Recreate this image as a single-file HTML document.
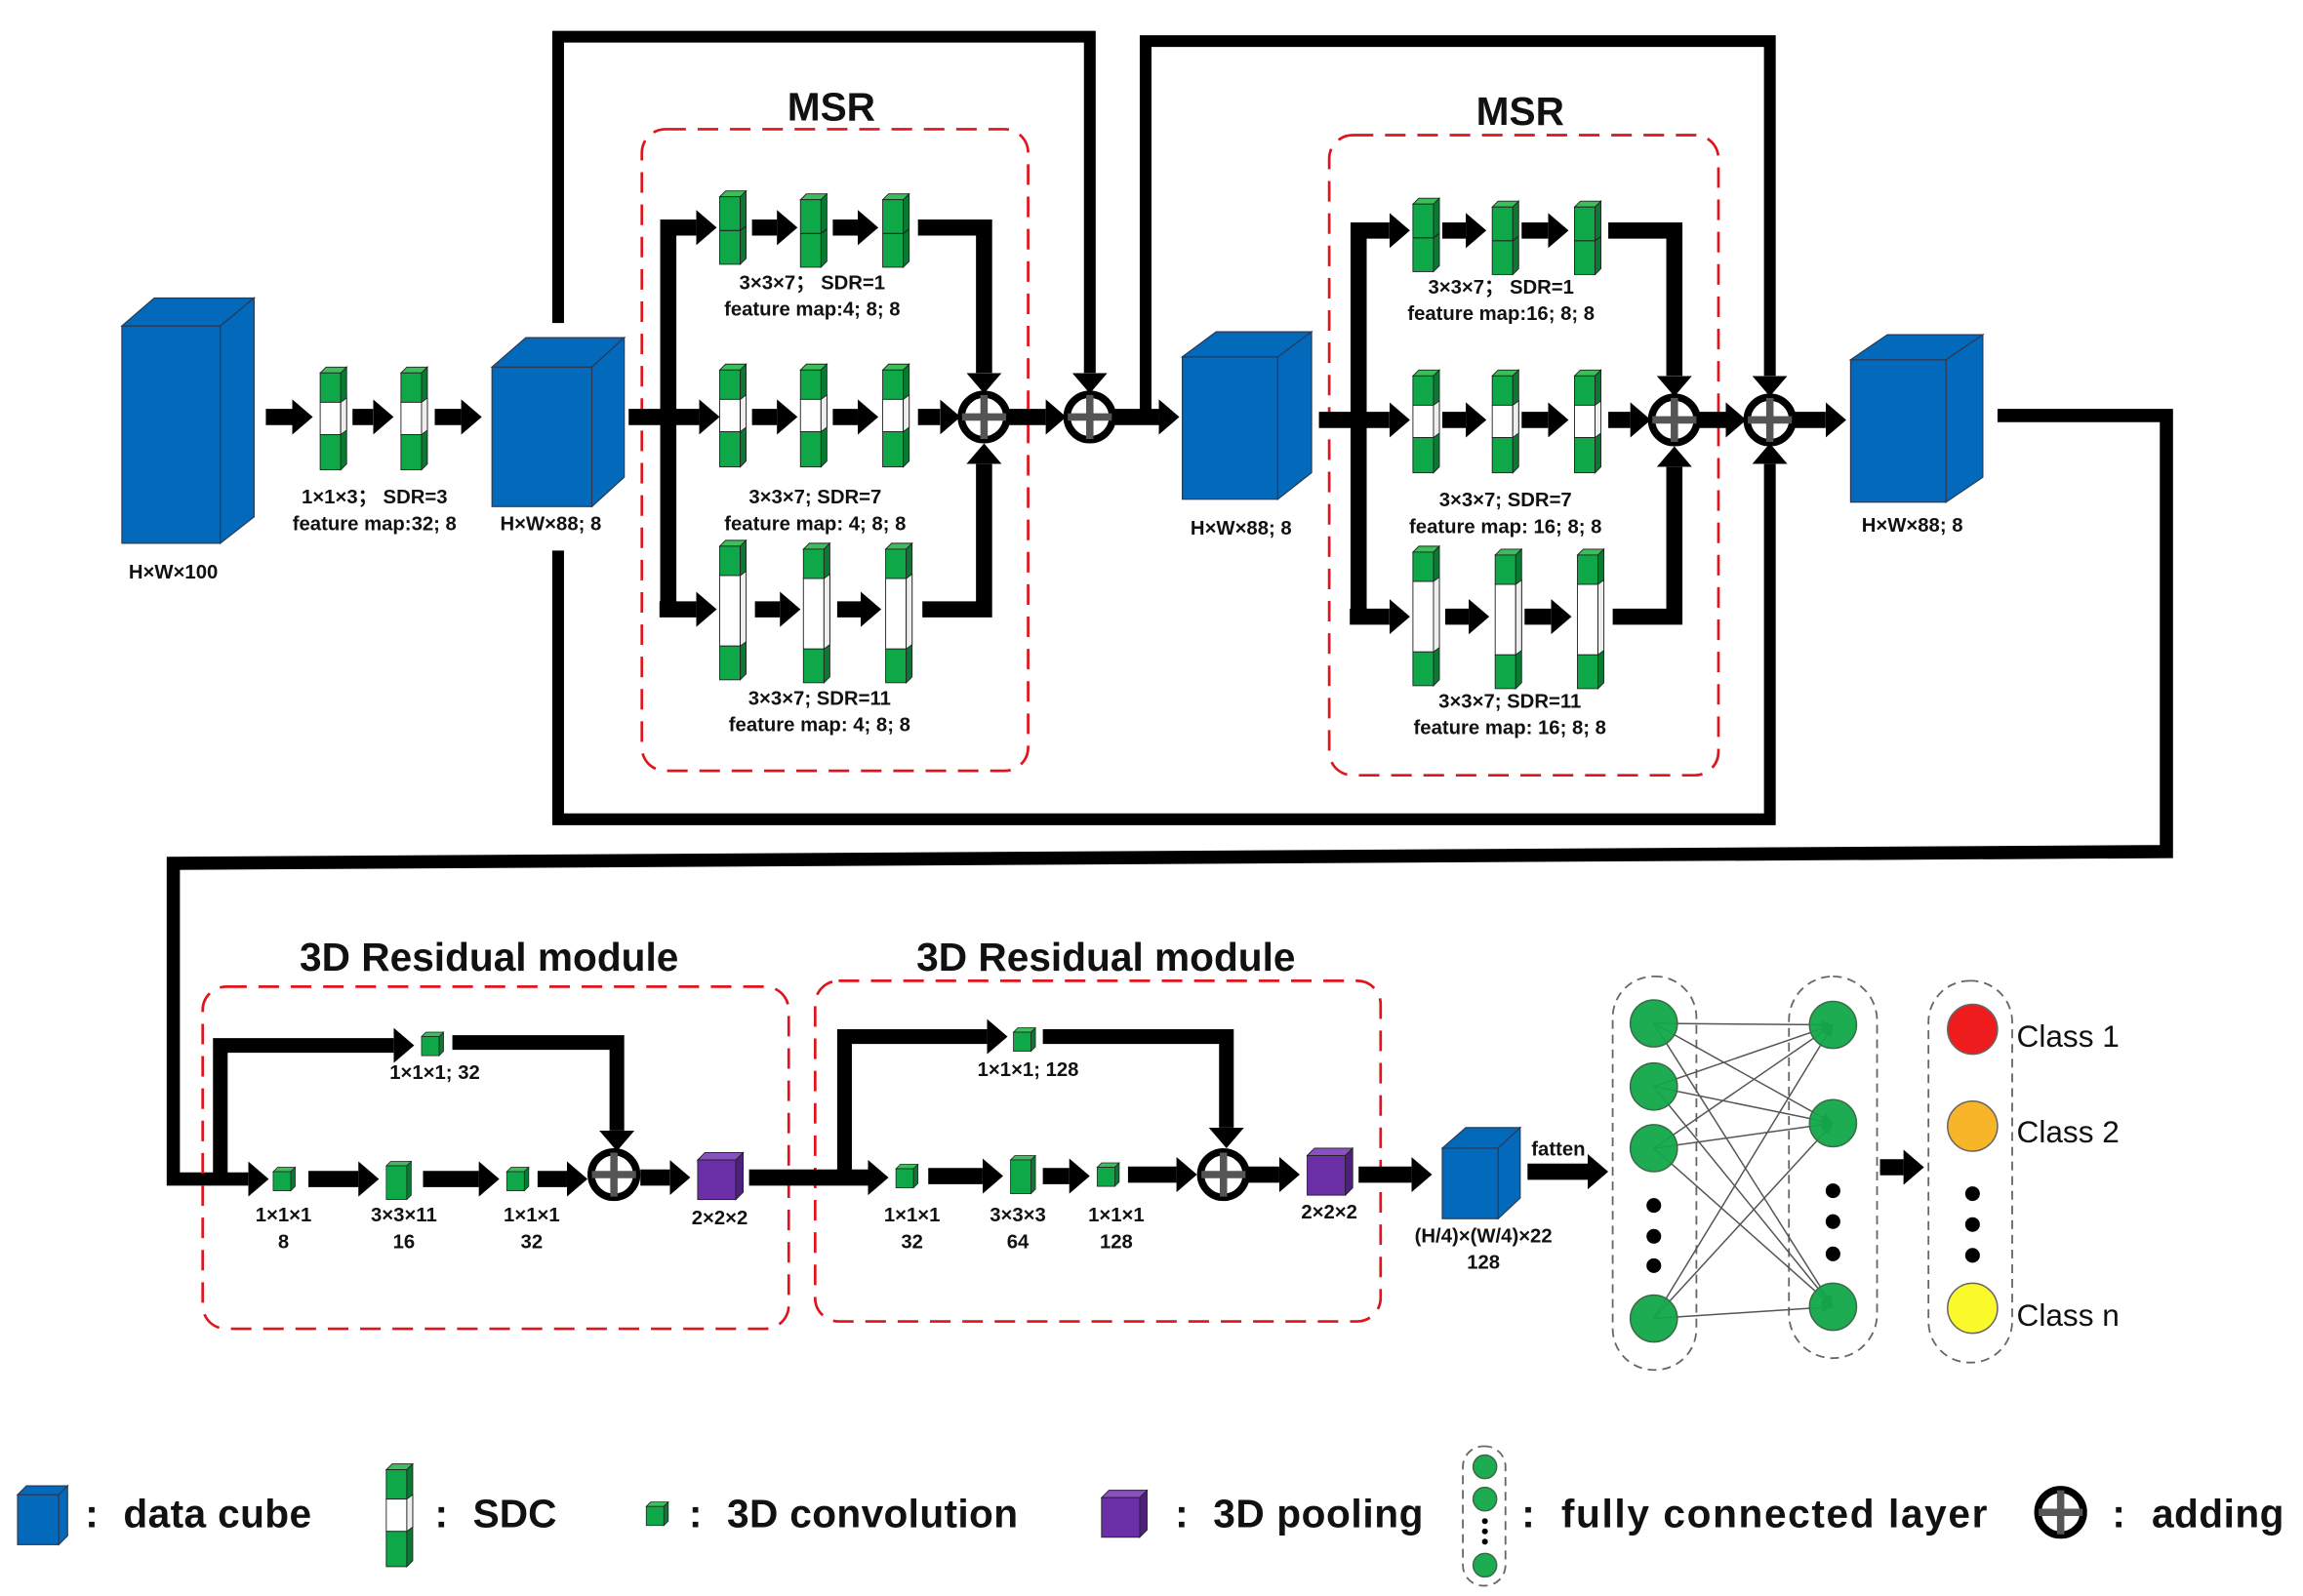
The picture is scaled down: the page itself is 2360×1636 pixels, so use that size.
<!DOCTYPE html>
<html><head><meta charset="utf-8"><style>
html,body{margin:0;padding:0;background:#fff}
svg{display:block}
text{font-family:"Liberation Sans","Noto Sans CJK SC",sans-serif;fill:#111}
.s{font-size:13.5px;font-weight:bold;text-anchor:middle}
.t{font-size:27px;font-weight:bold;text-anchor:middle}
.l{font-size:27px;font-weight:bold}
.c{font-size:21px}
</style></head><body>
<svg width="2360" height="1636" viewBox="0 0 1568 1087" preserveAspectRatio="none" xmlns="http://www.w3.org/2000/svg">
<defs>
<marker id="ah" markerUnits="userSpaceOnUse" markerWidth="14" markerHeight="24" viewBox="0 0 10 10" refX="0" refY="5" orient="auto" preserveAspectRatio="none"><path d="M0,0L10,5L0,10z" fill="#000"/></marker>
<marker id="sa" markerUnits="userSpaceOnUse" markerWidth="8" markerHeight="7" viewBox="0 0 10 10" refX="10" refY="5" orient="auto" preserveAspectRatio="none"><path d="M0,0L10,5L0,10z" fill="#555"/></marker>
<g id="sA">
<polygon points="0,4 4,0 18,0 14,4" fill="#3cbf5a" stroke="#222" stroke-width="0.6"/>
<rect x="0" y="4" width="14" height="46" fill="#0fa848" stroke="#222" stroke-width="0.6"/>
<polygon points="14,4 18,0 18,46 14,50" fill="#0a7a33" stroke="#222" stroke-width="0.6"/>
<line x1="0" y1="27" x2="14" y2="27" stroke="#222" stroke-width="0.8"/>
<line x1="14" y1="27" x2="18" y2="24" stroke="#222" stroke-width="0.8"/>
</g>
<g id="sB">
<polygon points="0,4 4,0 18,0 14,4" fill="#3cbf5a" stroke="#222" stroke-width="0.6"/>
<rect x="0" y="4" width="14" height="20" fill="#0fa848" stroke="#222" stroke-width="0.6"/>
<rect x="0" y="24" width="14" height="22" fill="#fff" stroke="#222" stroke-width="0.6"/>
<rect x="0" y="46" width="14" height="24" fill="#0fa848" stroke="#222" stroke-width="0.6"/>
<polygon points="14,4 18,0 18,66 14,70" fill="#0a7a33" stroke="#222" stroke-width="0.6"/>
<polygon points="14,24 18,21 18,43 14,46" fill="#eee" stroke="#222" stroke-width="0.6"/>
</g>
<g id="sC">
<polygon points="0,4 4,0 18,0 14,4" fill="#3cbf5a" stroke="#222" stroke-width="0.6"/>
<rect x="0" y="4" width="14" height="20" fill="#0fa848" stroke="#222" stroke-width="0.6"/>
<rect x="0" y="24" width="14" height="48" fill="#fff" stroke="#222" stroke-width="0.6"/>
<rect x="0" y="72" width="14" height="23" fill="#0fa848" stroke="#222" stroke-width="0.6"/>
<polygon points="14,4 18,0 18,91 14,95" fill="#0a7a33" stroke="#222" stroke-width="0.6"/>
<polygon points="14,24 18,21 18,69 14,72" fill="#eee" stroke="#222" stroke-width="0.6"/>
</g>
<g id="cv">
<polygon points="0,3 3,0 15,0 12,3" fill="#3cbf5a" stroke="#222" stroke-width="0.5"/>
<rect x="0" y="3" width="12" height="13" fill="#0fa848" stroke="#222" stroke-width="0.5"/>
<polygon points="12,3 15,0 15,13 12,16" fill="#0a7a33" stroke="#222" stroke-width="0.5"/>
</g>
<g id="cvT">
<polygon points="0,3 3,0 17,0 14,3" fill="#3cbf5a" stroke="#222" stroke-width="0.5"/>
<rect x="0" y="3" width="14" height="23" fill="#0fa848" stroke="#222" stroke-width="0.5"/>
<polygon points="14,3 17,0 17,23 14,26" fill="#0a7a33" stroke="#222" stroke-width="0.5"/>
</g>
<g id="pl">
<polygon points="0,5 5,0 31,0 26,5" fill="#8a4fc0" stroke="#222" stroke-width="0.6"/>
<rect x="0" y="5" width="26" height="27" fill="#6a2fa6" stroke="#222" stroke-width="0.6"/>
<polygon points="26,5 31,0 31,27 26,32" fill="#4f1f80" stroke="#222" stroke-width="0.6"/>
</g>
<g id="pls">
<circle r="15.5" fill="#fff" stroke="#000" stroke-width="5"/>
<line x1="-15" y1="0" x2="15" y2="0" stroke="#555" stroke-width="5"/>
<line x1="0" y1="-15" x2="0" y2="15" stroke="#555" stroke-width="5"/>
</g>
</defs>

<g fill="#0369ba" stroke="#2a3a55" stroke-width="0.8">
<rect x="83" y="222" width="67" height="148"/><polygon points="83,222 105,203 173,203 150,222"/><polygon points="150,222 173,203 173,352 150,370"/>
<rect x="335" y="250" width="68" height="95"/><polygon points="335,250 358,230 425,230 403,250"/><polygon points="403,250 425,230 425,325 403,345"/>
<rect x="805" y="243" width="65" height="97"/><polygon points="805,243 828,226 893,226 870,243"/><polygon points="870,243 893,226 893,322 870,340"/>
<rect x="1260" y="245" width="65" height="97"/><polygon points="1260,245 1285,228 1350,228 1325,245"/><polygon points="1325,245 1350,228 1350,325 1325,342"/>
<rect x="982" y="782" width="38" height="48"/><polygon points="982,782 998,768 1035,768 1020,782"/><polygon points="1020,782 1035,768 1035,816 1020,830"/>
<rect x="12" y="1018" width="28" height="34"/><polygon points="12,1018 18,1012 46,1012 40,1018"/><polygon points="40,1018 46,1012 46,1046 40,1052"/>
</g>

<g fill="none" stroke="#000" stroke-width="8">
<polyline points="380,220 380,25 742,25 742,254" marker-end="url(#ah)"/>
<polyline points="380,375 380,558 1205,558 1205,316" marker-end="url(#ah)"/>
<polyline points="780,284 780,28 1205,28 1205,256" marker-end="url(#ah)"/>
<polyline points="1360,283 1475,283 1475,580 118,588 118,803 169,803" stroke-width="9" marker-end="url(#ah)"/>
</g>

<g fill="none" stroke="#e0141c" stroke-width="1.8" stroke-dasharray="14,8">
<rect x="437" y="88" width="263" height="437" rx="16"/>
<rect x="905" y="92" width="265" height="436" rx="16"/>
<rect x="138" y="672" width="399" height="233" rx="16"/>
<rect x="555" y="668" width="385" height="232" rx="16"/>
</g>
<text class="t" x="566" y="82">MSR</text>
<text class="t" x="1035" y="85">MSR</text>
<text class="t" x="333" y="661">3D Residual module</text>
<text class="t" x="753" y="661">3D Residual module</text>

<g fill="none" stroke="#000" stroke-width="11" marker-end="url(#ah)">
<line x1="181" y1="284" x2="199" y2="284"/>
<line x1="240" y1="284" x2="254" y2="284"/>
<line x1="296" y1="284" x2="314" y2="284"/>
<line x1="428" y1="284" x2="476" y2="284"/>
<polyline points="455,415 455,155 474,155"/>
<polyline points="449,415 474,415"/>
<line x1="512" y1="155" x2="529" y2="155"/><line x1="567" y1="155" x2="584" y2="155"/>
<line x1="512" y1="284" x2="529" y2="284"/><line x1="567" y1="284" x2="584" y2="284"/>
<line x1="514" y1="415" x2="531" y2="415"/><line x1="570" y1="415" x2="586" y2="415"/>
<polyline points="625,155 670,155 670,254"/>
<line x1="625" y1="284" x2="640" y2="284"/>
<polyline points="628,415 670,415 670,316"/>
<line x1="686" y1="284" x2="712" y2="284"/>
<line x1="758" y1="284" x2="789" y2="284"/>

<line x1="898" y1="286" x2="946" y2="286"/>
<polyline points="925,420 925,157 946,157"/>
<polyline points="919,420 946,420"/>
<line x1="982" y1="157" x2="998" y2="157"/><line x1="1036" y1="157" x2="1054" y2="157"/>
<line x1="982" y1="286" x2="998" y2="286"/><line x1="1036" y1="286" x2="1054" y2="286"/>
<line x1="984" y1="420" x2="1000" y2="420"/><line x1="1038" y1="420" x2="1056" y2="420"/>
<polyline points="1095,157 1140,157 1140,256"/>
<line x1="1095" y1="286" x2="1110" y2="286"/>
<polyline points="1098,420 1140,420 1140,318"/>
<line x1="1156" y1="286" x2="1175" y2="286"/>
<line x1="1221" y1="286" x2="1243" y2="286"/>

<polyline points="150,803 150,712 268,712" stroke-width="10"/>
<line x1="210" y1="803" x2="244" y2="803"/>
<line x1="288" y1="803" x2="326" y2="803"/>
<line x1="366" y1="803" x2="386" y2="803"/>
<polyline points="308,710 420,710 420,770" stroke-width="10"/>
<line x1="436" y1="802" x2="456" y2="802"/>
<line x1="510" y1="802" x2="591" y2="802"/>
<polyline points="575,802 575,706 672,706" stroke-width="10"/>
<polyline points="710,706 835,706 835,768" stroke-width="10"/>
<line x1="632" y1="801" x2="669" y2="801"/>
<line x1="710" y1="801" x2="728" y2="801"/>
<line x1="768" y1="800" x2="801" y2="800"/>
<line x1="850" y1="800" x2="871" y2="800"/>
<line x1="925" y1="800" x2="961" y2="800"/>
<line x1="1040" y1="798" x2="1081" y2="798"/>
<line x1="1280" y1="795" x2="1296" y2="795"/>
</g>

<use href="#sB" x="218" y="250"/><use href="#sB" x="273" y="250"/>
<use href="#sA" x="490" y="130"/><use href="#sA" x="545" y="132"/><use href="#sA" x="601" y="132"/>
<use href="#sB" x="490" y="248"/><use href="#sB" x="545" y="248"/><use href="#sB" x="601" y="248"/>
<use href="#sC" x="490" y="368"/><use href="#sC" x="547" y="370"/><use href="#sC" x="603" y="370"/>
<use href="#sA" x="962" y="135"/><use href="#sA" x="1016" y="137"/><use href="#sA" x="1072" y="137"/>
<use href="#sB" x="962" y="252"/><use href="#sB" x="1016" y="252"/><use href="#sB" x="1072" y="252"/>
<use href="#sC" x="962" y="372"/><use href="#sC" x="1018" y="374"/><use href="#sC" x="1074" y="374"/>

<use href="#pls" x="670" y="284"/><use href="#pls" x="742" y="284"/>
<use href="#pls" x="1140" y="286"/><use href="#pls" x="1205" y="286"/>
<use href="#pls" x="418" y="800"/><use href="#pls" x="833" y="800"/>
<use href="#pls" x="1403" y="1030"/>

<use href="#cv" x="287" y="703"/><use href="#cv" x="186" y="795"/><use href="#cvT" x="263" y="791"/><use href="#cv" x="345" y="795"/>
<use href="#pl" x="475" y="785"/>
<use href="#cv" x="690" y="700"/><use href="#cv" x="610" y="793"/><use href="#cvT" x="688" y="787"/><use href="#cv" x="747" y="792"/>
<use href="#pl" x="890" y="782"/>
<use href="#cv" x="440" y="1023"/><use href="#sB" x="263" y="997"/>
<use href="#pl" x="750" y="1015"/>

<text class="s" x="118" y="394">H×W×100</text>
<text class="s" x="255" y="343">1×1×3； SDR=3</text>
<text class="s" x="255" y="361">feature map:32; 8</text>
<text class="s" x="375" y="361">H×W×88; 8</text>
<text class="s" x="553" y="197">3×3×7； SDR=1</text>
<text class="s" x="553" y="215">feature map:4; 8; 8</text>
<text class="s" x="555" y="343">3×3×7; SDR=7</text>
<text class="s" x="555" y="361">feature map: 4; 8; 8</text>
<text class="s" x="558" y="480">3×3×7; SDR=11</text>
<text class="s" x="558" y="498">feature map: 4; 8; 8</text>
<text class="s" x="845" y="364">H×W×88; 8</text>
<text class="s" x="1022" y="200">3×3×7； SDR=1</text>
<text class="s" x="1022" y="218">feature map:16; 8; 8</text>
<text class="s" x="1025" y="345">3×3×7; SDR=7</text>
<text class="s" x="1025" y="363">feature map: 16; 8; 8</text>
<text class="s" x="1028" y="482">3×3×7; SDR=11</text>
<text class="s" x="1028" y="500">feature map: 16; 8; 8</text>
<text class="s" x="1302" y="362">H×W×88; 8</text>

<text class="s" x="296" y="735">1×1×1; 32</text>
<text class="s" x="193" y="832">1×1×1</text><text class="s" x="193" y="850">8</text>
<text class="s" x="275" y="832">3×3×11</text><text class="s" x="275" y="850">16</text>
<text class="s" x="362" y="832">1×1×1</text><text class="s" x="362" y="850">32</text>
<text class="s" x="490" y="834">2×2×2</text>
<text class="s" x="700" y="733">1×1×1; 128</text>
<text class="s" x="621" y="832">1×1×1</text><text class="s" x="621" y="850">32</text>
<text class="s" x="693" y="832">3×3×3</text><text class="s" x="693" y="850">64</text>
<text class="s" x="760" y="832">1×1×1</text><text class="s" x="760" y="850">128</text>
<text class="s" x="905" y="830">2×2×2</text>
<text class="s" x="1061" y="787">fatten</text>
<text class="s" x="1010" y="846">(H/4)×(W/4)×22</text>
<text class="s" x="1010" y="864">128</text>

<g fill="none" stroke="#666" stroke-width="1.2" stroke-dasharray="6,4">
<rect x="1098" y="665" width="57" height="268" rx="28"/>
<rect x="1218" y="665" width="60" height="260" rx="30"/>
<rect x="1313" y="668" width="57" height="260" rx="28"/>
<rect x="996" y="985" width="29" height="95" rx="14"/>
</g>
<g stroke="#555" stroke-width="1" marker-end="url(#sa)">
<line x1="1126" y1="697" x2="1248" y2="698"/><line x1="1126" y1="697" x2="1248" y2="765"/><line x1="1126" y1="697" x2="1248" y2="890"/>
<line x1="1126" y1="740" x2="1248" y2="698"/><line x1="1126" y1="740" x2="1248" y2="765"/><line x1="1126" y1="740" x2="1248" y2="890"/>
<line x1="1126" y1="782" x2="1248" y2="698"/><line x1="1126" y1="782" x2="1248" y2="765"/><line x1="1126" y1="782" x2="1248" y2="890"/>
<line x1="1126" y1="898" x2="1248" y2="698"/><line x1="1126" y1="898" x2="1248" y2="765"/><line x1="1126" y1="898" x2="1248" y2="890"/>
</g>
<g fill="#12a84a" stroke="#3a6a45" stroke-width="1" fill-opacity="0.95">
<circle cx="1126" cy="697" r="16"/><circle cx="1126" cy="740" r="16"/><circle cx="1126" cy="782" r="16"/><circle cx="1126" cy="898" r="16"/>
<circle cx="1248" cy="698" r="16"/><circle cx="1248" cy="765" r="16"/><circle cx="1248" cy="890" r="16"/>
<circle cx="1011" cy="999" r="8"/><circle cx="1011" cy="1021" r="8"/><circle cx="1011" cy="1066" r="8"/>
</g>
<g fill="#000">
<circle cx="1126" cy="821" r="5"/><circle cx="1126" cy="842" r="5"/><circle cx="1126" cy="862" r="5"/>
<circle cx="1248" cy="811" r="5"/><circle cx="1248" cy="832" r="5"/><circle cx="1248" cy="854" r="5"/>
<circle cx="1343" cy="813" r="5"/><circle cx="1343" cy="834" r="5"/><circle cx="1343" cy="855" r="5"/>
<circle cx="1011" cy="1036" r="2"/><circle cx="1011" cy="1043" r="2"/><circle cx="1011" cy="1050" r="2"/>
</g>
<circle cx="1343" cy="701" r="17" fill="#ee1c1c" stroke="#666"/>
<circle cx="1343" cy="767" r="17" fill="#f9b52a" stroke="#666"/>
<circle cx="1343" cy="891" r="17" fill="#fafa2a" stroke="#666"/>
<text class="c" x="1373" y="713">Class 1</text>
<text class="c" x="1373" y="778">Class 2</text>
<text class="c" x="1373" y="903">Class n</text>

<text class="l" x="58" y="1040">:</text><text class="l" x="84" y="1040" textLength="128">data cube</text>
<text class="l" x="296" y="1040">:</text><text class="l" x="322" y="1040">SDC</text>
<text class="l" x="469" y="1040">:</text><text class="l" x="495" y="1040" textLength="198">3D convolution</text>
<text class="l" x="800" y="1040">:</text><text class="l" x="826" y="1040" textLength="143">3D pooling</text>
<text class="l" x="1036" y="1040">:</text><text class="l" x="1063" y="1040" textLength="290">fully  connected  layer</text>
<text class="l" x="1438" y="1040">:</text><text class="l" x="1465" y="1040" textLength="90">adding</text>
</svg>
</body></html>
